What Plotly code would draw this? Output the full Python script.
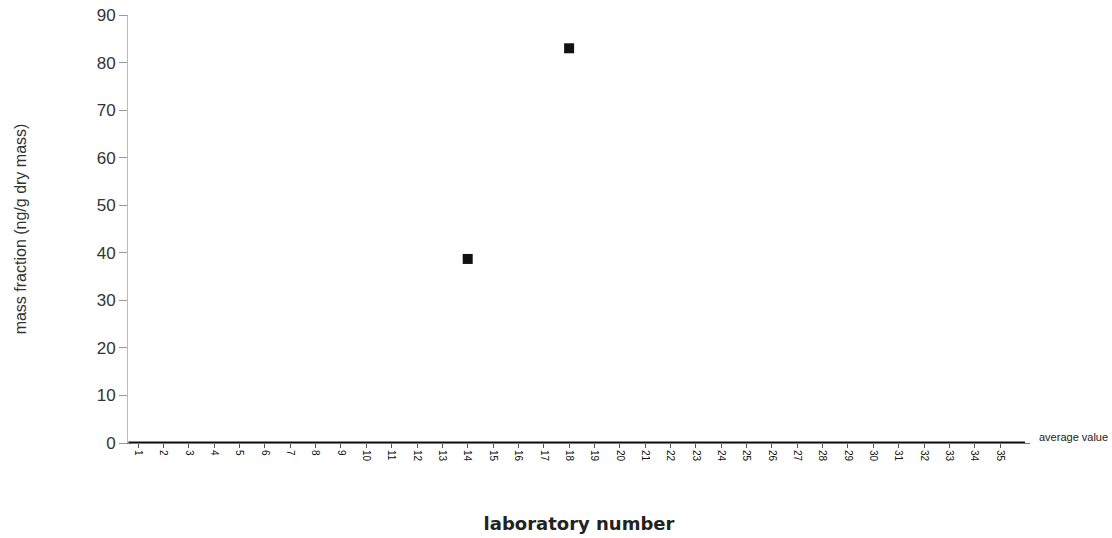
import plotly.graph_objects as go

# Laboratory identifiers along the x axis
labs = list(range(1, 36))
lab_labels = [str(n) for n in labs]

# Reported mass fractions (ng/g dry mass) for the labs that reported a value
reported_labs = [14, 18]
reported_values = [38.7, 83.0]

# Consensus (average) value drawn across the whole axis
avg_x = [0.62, 35.98]
avg_y = [0.0, 0.0]

y_ticks = [0, 10, 20, 30, 40, 50, 60, 70, 80, 90]

FONT = "Liberation Sans, Arial, sans-serif"

fig = go.Figure()

fig.add_trace(go.Scatter(
    x=avg_x, y=avg_y, mode="lines",
    line=dict(color="#111111", width=3),
    name="average value", showlegend=False, cliponaxis=False,
))

fig.add_trace(go.Scatter(
    x=reported_labs, y=reported_values, mode="markers",
    marker=dict(symbol="square", size=10, color="#111111"),
    name="reported", showlegend=False,
))

fig.add_annotation(
    x=1.008, y=0.014, xref="paper", yref="paper", text="average value",
    showarrow=False, xanchor="left", yanchor="middle",
    font=dict(family=FONT, size=11, color="#222222"),
)

fig.update_layout(
    width=1112, height=538,
    margin=dict(l=128, r=82, t=15, b=95),
    paper_bgcolor="white", plot_bgcolor="white",
    font=dict(family=FONT, color="#333333"),
)

fig.update_xaxes(
    range=[0.6, 36.18], automargin=False,
    tickmode="array", tickvals=labs, ticktext=lab_labels,
    tickangle=90, tickfont=dict(size=10, color="#111111"),
    ticks="outside", ticklen=4, tickcolor="#555555",
    showline=True, linecolor="#777777", linewidth=1,
    showgrid=False, zeroline=False,
    title=dict(text="<b>laboratory number</b>",
               font=dict(family="DejaVu Sans, sans-serif", size=18, color="#222222"),
               standoff=56),
)

fig.update_yaxes(
    range=[0, 90], automargin=False,
    tickmode="array", tickvals=y_ticks,
    tickfont=dict(size=17, color="#333333"),
    ticks="outside", ticklen=8, tickcolor="#999999",
    showline=True, linecolor="#bbbbbb", linewidth=1,
    showgrid=False, zeroline=False,
    title=dict(text="mass fraction (ng/g dry mass)", font=dict(size=16, color="#333333"), standoff=66),
)

fig.write_html("out.html")
